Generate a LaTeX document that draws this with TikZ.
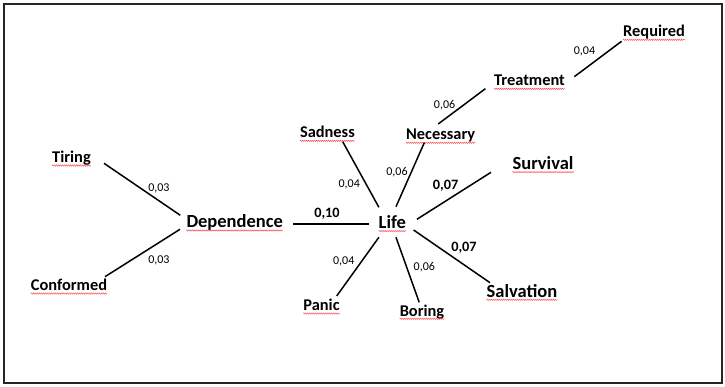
\documentclass[tikz,border=0pt]{standalone}
\usepackage{fontspec}
\setmainfont{Carlito}
\usetikzlibrary{decorations.pathmorphing}
\begin{document}
\begin{tikzpicture}[x=1pt,y=-1pt,
  big/.style={font=\fontsize{18.5}{20}\selectfont\bfseries, inner sep=0pt, anchor=base},
  small/.style={font=\fontsize{16.4}{18}\selectfont\bfseries, inner sep=0pt, anchor=base},
  wt/.style={font=\fontsize{12}{14}\selectfont, inner sep=0pt},
  wtb/.style={font=\fontsize{14.3}{16}\selectfont\bfseries, inner sep=0pt},
  link/.style={line width=1.5pt, black},
  squig/.style={red!75, line width=0.4pt, decorate,
    decoration={snake, amplitude=0.7pt, segment length=2pt}}]
\useasboundingbox (0,0) rectangle (725,387);
\draw[line width=2pt, black!85] (4,4) rectangle (722,383);

% words
\node[small] (required)  at (654,37)    {Required};
\node[small] (treatment) at (529.5,86)  {Treatment};
\node[small] (necessary) at (440.7,140) {Necessary};
\node[small] (sadness)   at (327.4,138) {Sadness};
\node[small] (tiring)    at (71.5,162.7){Tiring};
\node[small] (conformed) at (69,290.7)  {Conformed};
\node[small] (panic)     at (321.5,310.7){Panic};
\node[small] (boring)    at (422,316)   {Boring};
\node[big]   (dependence) at (234.7,227.7) {Dependence};
\node[big]   (life)      at (392.3,228.3) {Life};
\node[big]   (survival)  at (543,169.3) {Survival};
\node[big]   (salvation) at (522,297)   {Salvation};

% spell-check squiggles
\foreach \n in {required,treatment,necessary,sadness,tiring,conformed,panic,boring,dependence,life,survival,salvation}
  \draw[squig] ([yshift=-2.8pt]\n.base west) -- ([yshift=-2.8pt]\n.base east);

% connector end points
\coordinate (tr-a) at (574.3,76.7);  \coordinate (tr-b) at (621.6,41.3);
\coordinate (nt-a) at (438.2,124);   \coordinate (nt-b) at (485.4,88.7);
\coordinate (sl-a) at (342.7,141.7); \coordinate (sl-b) at (378.9,207.3);
\coordinate (nl-a) at (424.3,142.7); \coordinate (nl-b) at (396,206.7);
\coordinate (ls-a) at (416.9,219.3); \coordinate (ls-b) at (491,172.3);
\coordinate (dl-a) at (293.2,224);   \coordinate (dl-b) at (369.2,224);
\coordinate (lv-a) at (413.6,230);   \coordinate (lv-b) at (490,282.7);
\coordinate (lp-a) at (378.9,237.3); \coordinate (lp-b) at (336.7,296);
\coordinate (lb-a) at (396,237.3);   \coordinate (lb-b) at (419.2,302.3);
\coordinate (td-a) at (104,163.3);   \coordinate (td-b) at (180.3,215.3);
\coordinate (cd-a) at (105,276.7);   \coordinate (cd-b) at (180,229.3);

\draw[link] (tr-a) -- (tr-b);
\draw[link] (nt-a) -- (nt-b);
\draw[link] (sl-a) -- (sl-b);
\draw[link] (nl-a) -- (nl-b);
\draw[link] (ls-a) -- (ls-b);
\draw[link] (dl-a) -- (dl-b);
\draw[link] (lv-a) -- (lv-b);
\draw[link] (lp-a) -- (lp-b);
\draw[link] (lb-a) -- (lb-b);
\draw[link] (td-a) -- (td-b);
\draw[link] (cd-a) -- (cd-b);

% weights
\node[wt]  (w-tr) at (584.5,51.7) {0,04};
\node[wt]  (w-nt) at (444.6,105)  {0,06};
\node[wt]  (w-sl) at (349.2,184)  {0,04};
\node[wt]  (w-nl) at (397,172.3)  {0,06};
\node[wtb] (w-ls) at (445.6,185.7){0,07};
\node[wtb] (w-dl) at (327,213.3)  {0,10};
\node[wtb] (w-lv) at (464,247.3)  {0,07};
\node[wt]  (w-lp) at (343.7,261)  {0,04};
\node[wt]  (w-lb) at (424.3,267.7){0,06};
\node[wt]  (w-td) at (158.9,188.3){0,03};
\node[wt]  (w-cd) at (158.9,260)  {0,03};
\end{tikzpicture}
\end{document}
